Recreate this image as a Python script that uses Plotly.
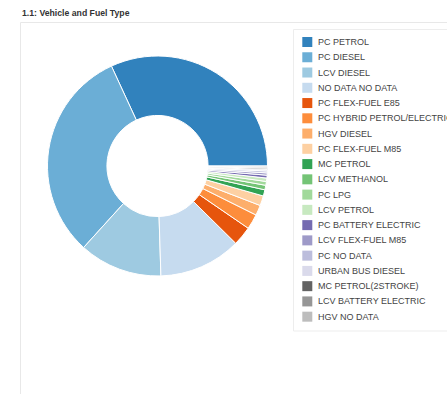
import plotly.graph_objects as go

W, H = 447, 394

labels = ["PC PETROL", "PC DIESEL", "LCV DIESEL", "NO DATA NO DATA", "PC FLEX-FUEL E85",
          "PC HYBRID PETROL/ELECTRIC", "HGV DIESEL", "PC FLEX-FUEL M85", "MC PETROL",
          "LCV METHANOL", "PC LPG", "LCV PETROL", "PC BATTERY ELECTRIC", "LCV FLEX-FUEL M85",
          "PC NO DATA", "URBAN BUS DIESEL", "MC PETROL(2STROKE)", "LCV BATTERY ELECTRIC",
          "HGV NO DATA"]
values = [114.6, 112.9, 43.9, 43.5, 10.2, 8.0, 5.4, 5.2, 3.3, 2.4, 2.0, 1.8, 1.5, 1.2, 1.0,
          0.8, 0.7, 0.6, 0.5]
colors = ["#3182bd", "#6baed6", "#9ecae1", "#c6dbef", "#e6550d", "#fd8d3c", "#fdae6b",
          "#fdd0a2", "#31a354", "#74c476", "#a1d99b", "#c7e9c0", "#756bb1", "#9e9ac8",
          "#bcbddc", "#dadaeb", "#636363", "#969696", "#bdbdbd"]
title = "1.1: Vehicle and Fuel Type"

def px(x):
    return x / W

def py(y):
    return 1 - y / H

# first slice starts at 3 o'clock and runs counterclockwise
rot = 90 - values[0] / sum(values) * 360

fig = go.Figure()
fig.add_trace(go.Pie(
    labels=labels, values=values, sort=False, direction="counterclockwise", rotation=rot,
    hole=0.46, textinfo="none",
    marker=dict(colors=colors, line=dict(color="white", width=1)),
    domain=dict(x=[px(47.5), px(267.5)], y=[py(276), py(56)]),
    showlegend=False,
))

shapes = [
    dict(type="rect", xref="paper", yref="paper", x0=px(20.5), x1=px(470), y0=py(420), y1=py(22.5),
         line=dict(color="#e8e8e8", width=1), fillcolor="rgba(0,0,0,0)", layer="below"),
    dict(type="rect", xref="paper", yref="paper", x0=px(293.5), x1=px(470), y0=py(331), y1=py(29.5),
         line=dict(color="#ededed", width=1), fillcolor="white", layer="below"),
]
annotations = [
    dict(text="<b>" + title + "</b>", xref="paper", yref="paper", x=px(19.5), y=py(13.5),
         xanchor="left", yanchor="middle", showarrow=False,
         font=dict(family="Liberation Sans, Arial", size=8.7, color="#333333"))
]
y0, step = 42.0, 15.26
for i, (lab, col) in enumerate(zip(labels, colors)):
    yc = y0 + step * i
    shapes.append(dict(type="rect", xref="paper", yref="paper", x0=px(302.3), x1=px(312.3),
                       y0=py(yc + 5), y1=py(yc - 5), line=dict(width=0), fillcolor=col))
    annotations.append(dict(text=lab, xref="paper", yref="paper", x=px(316.3), y=py(yc),
                            xanchor="left", yanchor="middle", showarrow=False,
                            font=dict(family="Liberation Sans, Arial", size=9, color="#444444")))

fig.update_layout(
    width=W, height=H, autosize=False,
    margin=dict(l=0, r=0, t=0, b=0),
    paper_bgcolor="white", plot_bgcolor="white",
    shapes=shapes, annotations=annotations,
)
fig.write_html("out.html")
